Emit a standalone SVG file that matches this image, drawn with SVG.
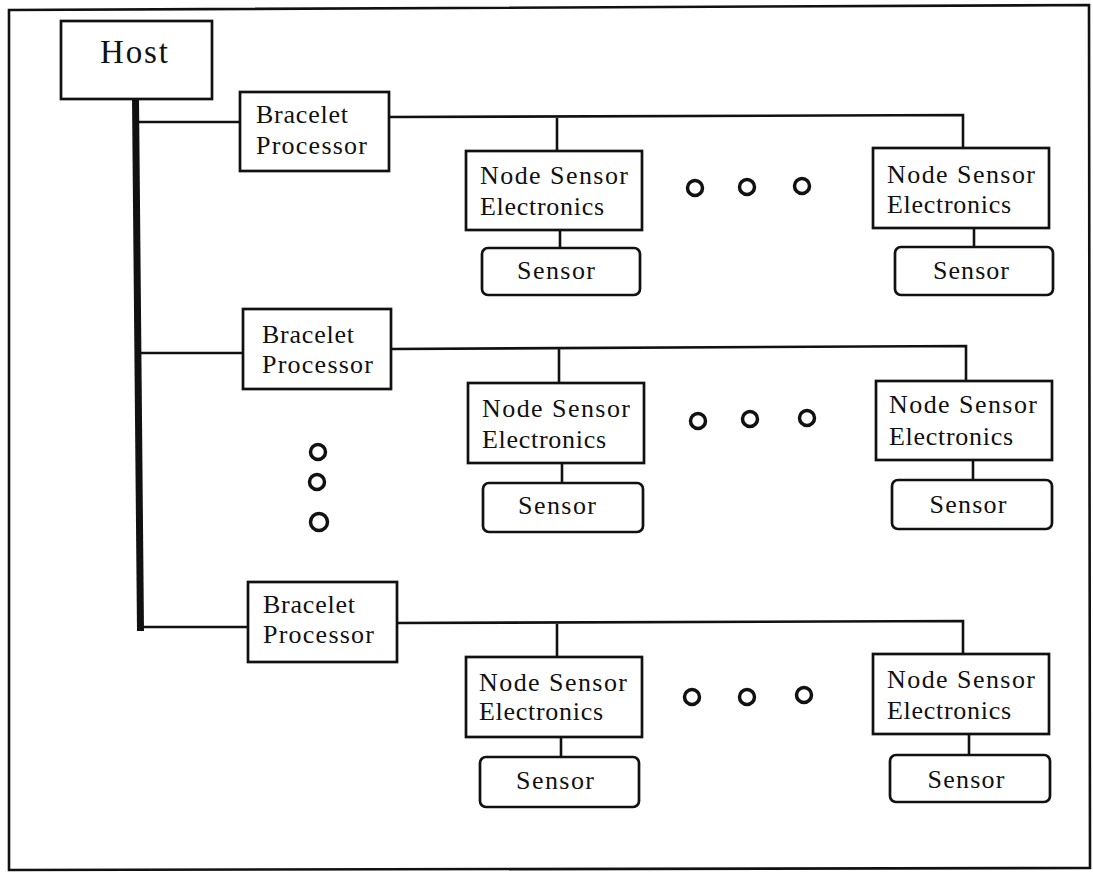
<svg xmlns="http://www.w3.org/2000/svg" width="1093" height="872" viewBox="0 0 1093 872">
<style>
.box{fill:#fff;stroke:#111;stroke-width:2.7}
.conn{fill:none;stroke:#111;stroke-width:2.6}
.bus{fill:none;stroke:#111;stroke-width:7}
.dot{fill:none;stroke:#111;stroke-width:3.5}
text{font-family:"Liberation Serif","Times New Roman",serif;font-size:26px;fill:#111}
.host{font-size:33px}
</style>
<rect width="1093" height="872" fill="#fff"/>
<polygon points="9,10 1089,5 1090,868 9,870" fill="none" stroke="#111" stroke-width="2.6"/>
<g id="connectors">
<line class="bus" x1="135.5" y1="98" x2="140.5" y2="631"/>
<path class="conn" d="M136,122 H240"/>
<path class="conn" d="M137,353 H243"/>
<path class="conn" d="M140,627 H248"/>
<path class="conn" d="M389,117 L963,115 V148 M557,117 V151"/>
<path class="conn" d="M560,230 V248 M974,228 V247"/>
<path class="conn" d="M391,349 L966,346 V381 M559,349 V383"/>
<path class="conn" d="M562,463 V483 M973,460 V480"/>
<path class="conn" d="M397,623 L963,621 V654 M557,623 V657"/>
<path class="conn" d="M561,737 V757 M969,734 V755"/>
</g>
<g id="host">
<rect class="box" x="61" y="21" width="151" height="78"/>
<text class="host" x="134" y="63" text-anchor="middle" textLength="68">Host</text>
</g>
<g id="bp1">
<rect class="box" x="240" y="92" width="149" height="79"/>
<text x="256" y="123" textLength="92">Bracelet</text>
<text x="256" y="154" textLength="111">Processor</text>
</g>
<g id="bp2">
<rect class="box" x="243" y="309" width="148" height="80"/>
<text x="262" y="343" textLength="92">Bracelet</text>
<text x="262" y="373" textLength="111">Processor</text>
</g>
<g id="bp3">
<rect class="box" x="248" y="582" width="149" height="80"/>
<text x="263" y="613" textLength="92">Bracelet</text>
<text x="263" y="643" textLength="111">Processor</text>
</g>
<g id="nse1a">
<rect class="box" x="466" y="151" width="176" height="79"/>
<text x="480" y="184" textLength="148">Node Sensor</text>
<text x="480" y="215" textLength="124">Electronics</text>
</g>
<g id="nse1b">
<rect class="box" x="873" y="148" width="176" height="80"/>
<text x="887" y="183" textLength="148">Node Sensor</text>
<text x="887" y="213" textLength="124">Electronics</text>
</g>
<g id="nse2a">
<rect class="box" x="468" y="383" width="176" height="80"/>
<text x="482" y="417" textLength="148">Node Sensor</text>
<text x="482" y="448" textLength="124">Electronics</text>
</g>
<g id="nse2b">
<rect class="box" x="876" y="381" width="176" height="79"/>
<text x="889" y="413" textLength="148">Node Sensor</text>
<text x="889" y="445" textLength="124">Electronics</text>
</g>
<g id="nse3a">
<rect class="box" x="466" y="657" width="176" height="80"/>
<text x="479" y="691" textLength="148">Node Sensor</text>
<text x="479" y="720" textLength="124">Electronics</text>
</g>
<g id="nse3b">
<rect class="box" x="873" y="654" width="176" height="80"/>
<text x="887" y="688" textLength="148">Node Sensor</text>
<text x="887" y="719" textLength="124">Electronics</text>
</g>
<g id="sensor1a">
<rect class="box" x="482" y="248" width="158" height="47" rx="6"/>
<text x="556" y="279" text-anchor="middle" textLength="78">Sensor</text>
</g>
<g id="sensor1b">
<rect class="box" x="895" y="247" width="158" height="48" rx="6"/>
<text x="971" y="279" text-anchor="middle" textLength="76">Sensor</text>
</g>
<g id="sensor2a">
<rect class="box" x="483" y="483" width="160" height="49" rx="6"/>
<text x="557" y="514" text-anchor="middle" textLength="78">Sensor</text>
</g>
<g id="sensor2b">
<rect class="box" x="892" y="480" width="160" height="49" rx="6"/>
<text x="968" y="513" text-anchor="middle" textLength="77">Sensor</text>
</g>
<g id="sensor3a">
<rect class="box" x="480" y="757" width="159" height="50" rx="6"/>
<text x="555" y="789" text-anchor="middle" textLength="78">Sensor</text>
</g>
<g id="sensor3b">
<rect class="box" x="890" y="755" width="160" height="47" rx="6"/>
<text x="966" y="788" text-anchor="middle" textLength="77">Sensor</text>
</g>
<g id="ellipses">
<circle class="dot" cx="695" cy="188" r="7.5"/>
<circle class="dot" cx="747" cy="187" r="7.5"/>
<circle class="dot" cx="802" cy="186" r="7.5"/>
<circle class="dot" cx="698" cy="421" r="7.5"/>
<circle class="dot" cx="750" cy="419" r="7.5"/>
<circle class="dot" cx="807" cy="418" r="7.5"/>
<circle class="dot" cx="692" cy="697" r="7.5"/>
<circle class="dot" cx="747" cy="697" r="7.5"/>
<circle class="dot" cx="804" cy="695" r="7.5"/>
<circle class="dot" cx="318" cy="452" r="7.5"/>
<circle class="dot" cx="317" cy="482" r="7.5"/>
<circle class="dot" cx="319" cy="522" r="8.5"/>
</g>
</svg>
